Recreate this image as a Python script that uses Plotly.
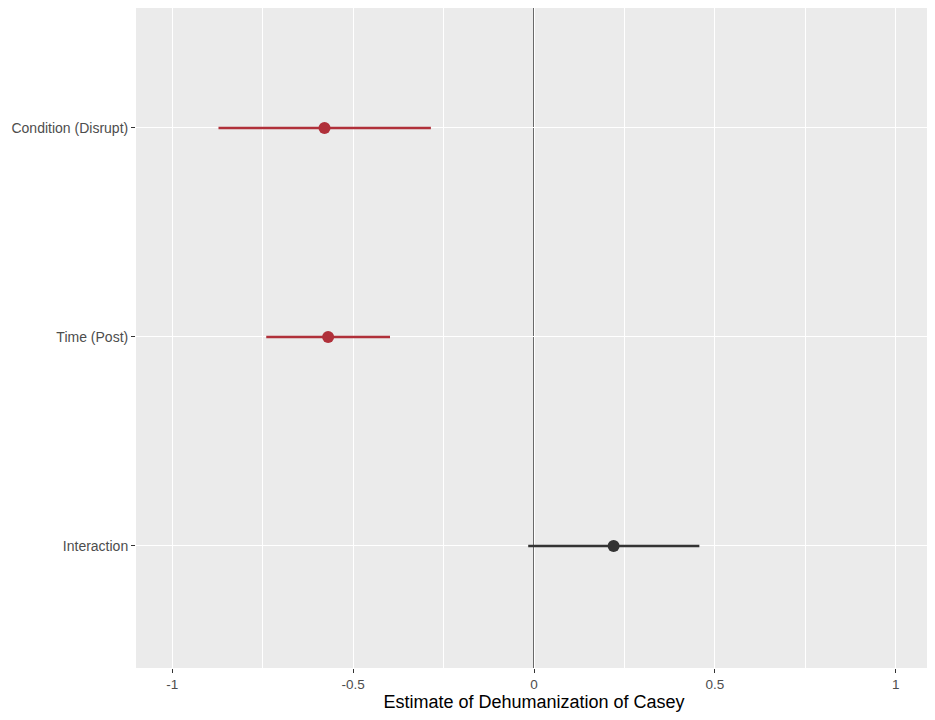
import plotly.graph_objects as go

# coefficient estimates with 95% intervals
terms = ["Interaction", "Time (Post)", "Condition (Disrupt)"]
estimates = [0.220, -0.569, -0.579]
ci_low = [-0.016, -0.740, -0.872]
ci_high = [0.457, -0.398, -0.285]
colors = ["#333333", "#B0303A", "#B0303A"]

x_ticks = [-1, -0.5, 0, 0.5, 1]
x_ticktext = ["-1", "-0.5", "0", "0.5", "1"]

fig = go.Figure()

# zero reference line (drawn below the estimates)
fig.add_vline(x=0, line=dict(color="#333333", width=1.4), layer="below")

for term, est, lo, hi, col in zip(terms, estimates, ci_low, ci_high, colors):
    fig.add_trace(go.Scatter(
        x=[lo, hi], y=[term, term],
        mode="lines",
        line=dict(color=col, width=2.6),
        showlegend=False, hoverinfo="skip"
    ))
    fig.add_trace(go.Scatter(
        x=[est], y=[term],
        mode="markers",
        marker=dict(color=col, size=12, line=dict(width=0)),
        showlegend=False
    ))

# page body adds an 8px margin, so size/margins are trimmed accordingly
fig.update_layout(
    width=927, height=712,
    margin=dict(l=128, r=3, t=0, b=52),
    plot_bgcolor="#EBEBEB",
    paper_bgcolor="white",
    font=dict(family="Liberation Sans, Arial, sans-serif", size=14, color="#4D4D4D"),
)

fig.update_xaxes(
    range=[-1.1, 1.1],
    tickvals=x_ticks, ticktext=x_ticktext,
    showgrid=True, gridcolor="white", gridwidth=1.3,
    minor=dict(dtick=0.25, tick0=0, showgrid=True, gridcolor="white", gridwidth=0.6, ticks=""),
    zeroline=False, showline=False, automargin=False,
    ticks="outside", ticklen=4, tickcolor="#333333", tickwidth=1,
    tickfont=dict(size=13.5, color="#4D4D4D"),
    title=dict(text="Estimate of Dehumanization of Casey",
               font=dict(size=18, color="black"), standoff=4),
)

fig.update_yaxes(
    type="category",
    categoryorder="array", categoryarray=terms,
    range=[-0.584, 2.574],
    showgrid=True, gridcolor="white", gridwidth=1.3,
    zeroline=False, showline=False, automargin=False,
    ticks="outside", ticklen=4, tickcolor="#333333", tickwidth=1,
    tickfont=dict(size=14, color="#4D4D4D"),
)

fig.write_html("out.html")
